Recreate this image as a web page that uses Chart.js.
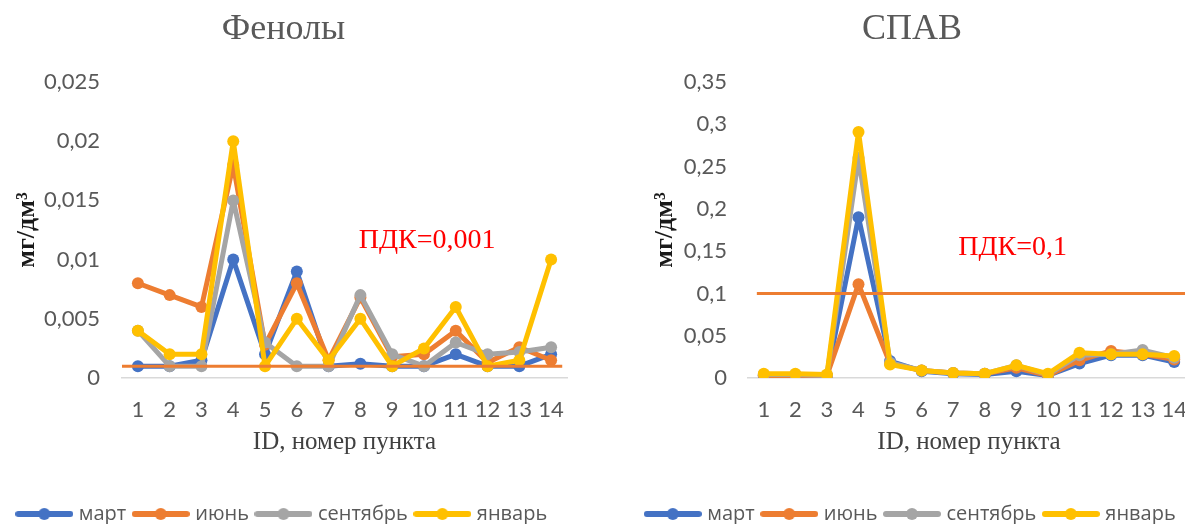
<!DOCTYPE html>
<html>
<head>
<meta charset="utf-8">
<script src="https://cdn.jsdelivr.net/npm/chart.js@4.4.1/dist/chart.umd.min.js"></script>
<style>
  html, body { margin: 0; padding: 0; background: #ffffff; }
  body { width: 1185px; height: 524px; overflow: hidden; position: relative; }
  canvas { position: absolute; top: 0; display: block; }
  #phenols { left: 0; }
  #spav { left: 634px; }
</style>
</head>
<body>
<canvas id="phenols" width="574" height="534"></canvas>
<canvas id="spav" width="570" height="534"></canvas>
<script>
// Sampling points
const pointIds = ['1', '2', '3', '4', '5', '6', '7', '8', '9', '10', '11', '12', '13', '14'];
const seasonNames = ['март', 'июнь', 'сентябрь', 'январь'];

// Phenols, mg/dm3
const phenolsMarch = [0.001, 0.001, 0.0015, 0.010, 0.002, 0.009, 0.001, 0.0012, 0.001, 0.001, 0.002, 0.001, 0.001, 0.002];
const phenolsJune  = [0.008, 0.007, 0.006, 0.018, 0.0028, 0.008, 0.0015, 0.0068, 0.0018, 0.002, 0.004, 0.0013, 0.0026, 0.0015];
const phenolsSept  = [0.004, 0.001, 0.001, 0.015, 0.003, 0.001, 0.001, 0.007, 0.002, 0.001, 0.003, 0.002, 0.0022, 0.0026];
const phenolsJan   = [0.004, 0.002, 0.002, 0.020, 0.001, 0.005, 0.0015, 0.005, 0.001, 0.0025, 0.006, 0.001, 0.0015, 0.010];
const phenolsLimit = 0.001;
const phenolsTickLabels = ['0', '0,005', '0,01', '0,015', '0,02', '0,025'];

// Surfactants (СПАВ), mg/dm3
const spavMarch = [0.003, 0.003, 0.003, 0.19, 0.02, 0.008, 0.005, 0.004, 0.008, 0.003, 0.017, 0.027, 0.027, 0.019];
const spavJune  = [0.003, 0.003, 0.003, 0.111, 0.017, 0.009, 0.006, 0.005, 0.012, 0.003, 0.021, 0.032, 0.028, 0.022];
const spavSept  = [0.004, 0.004, 0.003, 0.26, 0.018, 0.009, 0.006, 0.005, 0.015, 0.004, 0.027, 0.028, 0.033, 0.024];
const spavJan   = [0.005, 0.005, 0.004, 0.291, 0.016, 0.009, 0.006, 0.005, 0.015, 0.005, 0.03, 0.028, 0.028, 0.026];
const spavLimit = 0.1;
const spavTickLabels = ['0', '0,05', '0,1', '0,15', '0,2', '0,25', '0,3', '0,35'];

const seasonColors = ['#4472C4', '#ED7D31', '#A5A5A5', '#FFC000'];
const textGray = '#595959';

// Legend marker: a short thick line with a dot in the middle
function legendMarker(color) {
  const c = document.createElement('canvas');
  c.width = 58; c.height = 14;
  const g = c.getContext('2d');
  g.strokeStyle = color; g.lineWidth = 6; g.lineCap = 'round';
  g.beginPath(); g.moveTo(3, 7); g.lineTo(55, 7); g.stroke();
  g.fillStyle = color;
  g.beginPath(); g.arc(29, 7, 6, 0, Math.PI * 2); g.fill();
  return c;
}

// Horizontal MPC (ПДК) line with its caption, placed through the chart scales
const limitLine = {
  id: 'limitLine',
  afterDatasetsDraw(chart, args, o) {
    const xs = chart.scales.x, ys = chart.scales.y, ctx = chart.ctx;
    const yPix = ys.getPixelForValue(o.value);
    ctx.save();
    ctx.strokeStyle = '#ED7D31';
    ctx.lineWidth = 3;
    ctx.beginPath();
    ctx.moveTo(xs.getPixelForValue(o.from), yPix);
    ctx.lineTo(xs.getPixelForValue(o.to), yPix);
    ctx.stroke();
    ctx.font = '28px "Liberation Serif"';
    ctx.fillStyle = '#FF0000';
    ctx.textAlign = 'center';
    ctx.textBaseline = 'middle';
    ctx.fillText('ПДК=' + String(o.value).replace('.', ','),
      xs.getPixelForValue(o.labelAt[0]), ys.getPixelForValue(o.labelAt[1]));
    ctx.restore();
  }
};

function buildChart(id, title, series, tickLabels, yMax, yStep, limit, geo) {
  const datasets = series.map((values, i) => ({
    label: seasonNames[i],
    data: values,
    borderColor: seasonColors[i],
    backgroundColor: seasonColors[i],
    borderWidth: 5,
    pointRadius: 6,
    pointHoverRadius: 6,
    pointBorderWidth: 0,
    tension: 0,
    borderJoinStyle: 'round',
    borderCapStyle: 'round',
    order: series.length - i
  }));
  return new Chart(document.getElementById(id), {
    type: 'line',
    data: { labels: pointIds, datasets },
    plugins: [limitLine],
    options: {
      responsive: false,
      animation: false,
      events: [],
      layout: { padding: { top: 0, left: 0, right: geo.padRight, bottom: 0 } },
      plugins: {
        tooltip: { enabled: false },
        title: {
          display: true, text: title, color: textGray,
          font: { family: 'Liberation Serif', size: 36, weight: 'normal', lineHeight: 1.2 },
          padding: { top: 8, bottom: 30.8 }
        },
        legend: {
          position: 'bottom',
          labels: {
            usePointStyle: true,
            pointStyleWidth: 49,
            padding: 10,
            color: textGray,
            font: { family: 'Open Sans', size: 20 },
            generateLabels(chart) {
              return chart.data.datasets.map((ds, i) => ({
                text: ds.label,
                fillStyle: ds.borderColor,
                strokeStyle: ds.borderColor,
                fontColor: textGray,
                lineWidth: 0,
                pointStyle: legendMarker(ds.borderColor),
                hidden: !chart.isDatasetVisible(i),
                datasetIndex: i
              }));
            }
          }
        },
        limitLine: limit
      },
      scales: {
        x: {
          offset: true,
          grid: { display: false, drawTicks: false },
          border: { display: true, color: '#D9D9D9', width: 1.5 },
          ticks: {
            color: textGray, padding: 18.8, autoSkip: false, maxRotation: 0,
            font: { family: 'Lato', size: 22 }
          },
          title: {
            display: true, text: 'ID, номер пункта', color: '#404040',
            font: { family: 'Liberation Serif', size: 25, lineHeight: 1.2 },
            padding: { top: 0, bottom: 37 }
          },
          afterFit(s) {
            s.height = 116;
            s.paddingLeft = 0;
            s.paddingRight = 0;
          }
        },
        y: {
          min: 0, max: yMax,
          grid: { display: false, drawTicks: false },
          border: { display: false },
          ticks: {
            stepSize: yStep, color: textGray, padding: geo.tickPad,
            font: { family: 'Lato', size: 22 },
            callback: (v, i) => tickLabels[i]
          },
          title: {
            display: true, text: 'мг/дм³', color: '#1a1a1a',
            font: { family: 'Liberation Serif', size: 26, weight: 'bold', lineHeight: 1.2 },
            padding: { top: geo.yTitlePad, bottom: 0 }
          },
          afterFit(s) { s.width = geo.yWidth; }
        }
      }
    }
  });
}

buildChart('phenols', 'Фенолы',
  [phenolsMarch, phenolsJune, phenolsSept, phenolsJan],
  phenolsTickLabels, 0.025, 0.005,
  { value: phenolsLimit, from: -0.5, to: 13.35, labelAt: [9.1, 0.0116] },
  { padRight: 7, yWidth: 122, tickPad: 22, yTitlePad: 12 });

buildChart('spav', 'СПАВ',
  [spavMarch, spavJune, spavSept, spavJan],
  spavTickLabels, 0.35, 0.05,
  { value: spavLimit, from: -0.22, to: 13.6, labelAt: [7.88, 0.1536] },
  { padRight: 14, yWidth: 114, tickPad: 21, yTitlePad: 16 });
</script>
</body>
</html>
